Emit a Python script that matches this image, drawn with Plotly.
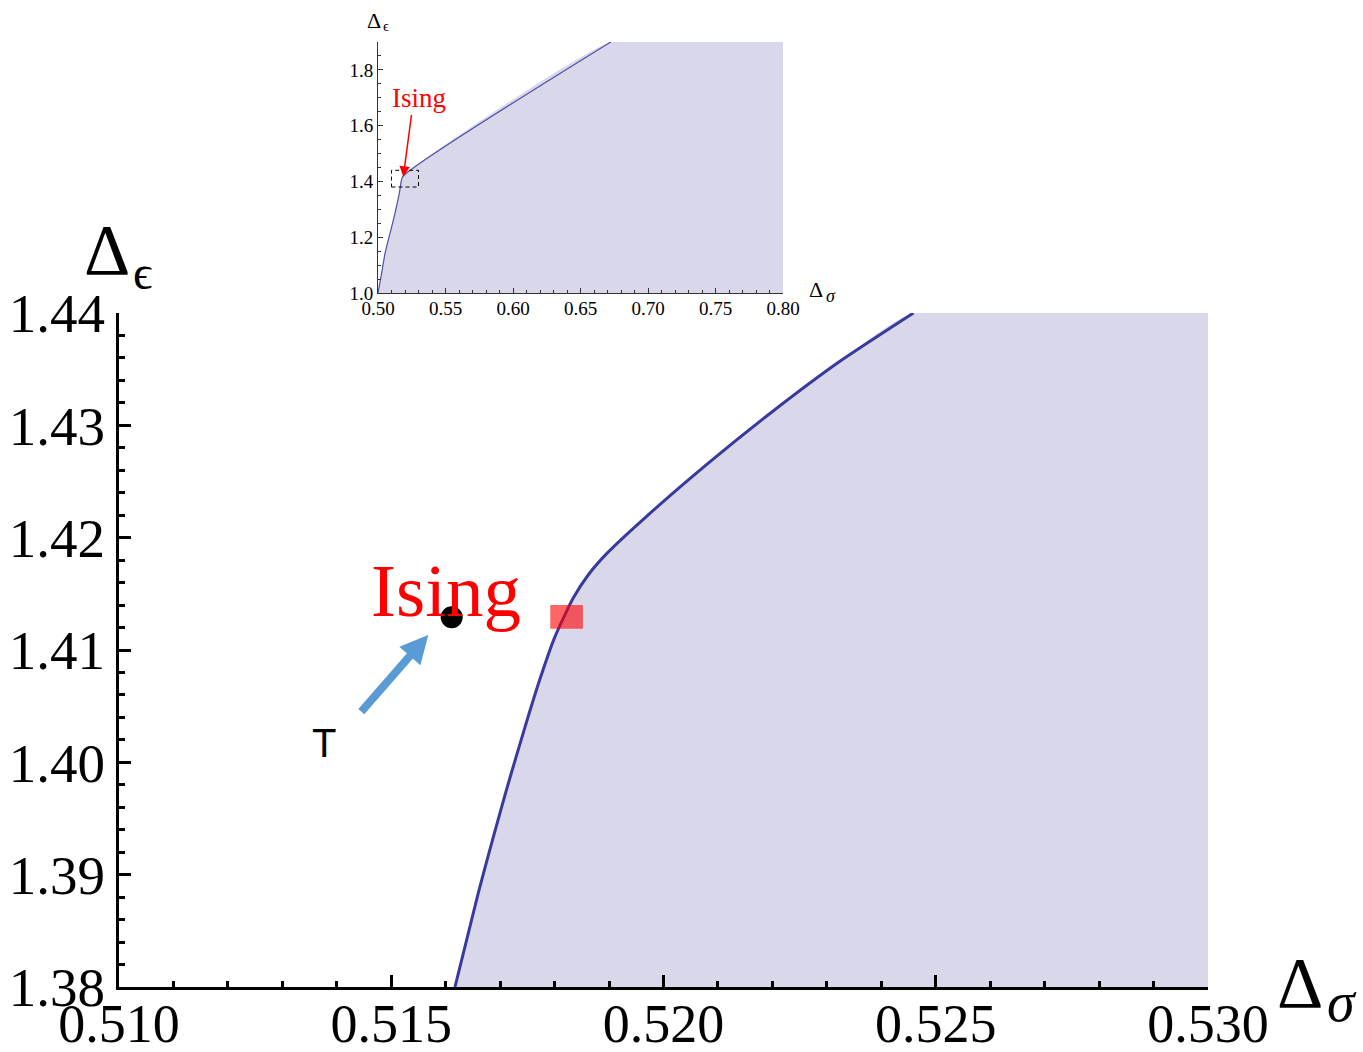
import plotly.graph_objects as go

# ---------------- data ----------------
# main boundary curve (Delta_sigma, Delta_epsilon)
curve_x = [0.51617, 0.51660, 0.51686, 0.51713, 0.51746, 0.51771, 0.51800,
           0.51834, 0.51862, 0.51896, 0.51969, 0.52079, 0.52202, 0.52324, 0.52459]
curve_y = [1.3800, 1.3884, 1.3931, 1.3978, 1.4032, 1.4071, 1.4111,
           1.4146, 1.4167, 1.4186, 1.4219, 1.4265, 1.4313, 1.4357, 1.4400]
# region corners closing the allowed (shaded) region
fill_corner_x = [0.530, 0.530]
fill_corner_y = [1.44, 1.38]

# inset boundary curve
inset_x = [0.5000, 0.5027, 0.5052, 0.5089, 0.5126, 0.5158, 0.5183, 0.6724]
inset_y = [1.000, 1.071, 1.142, 1.214, 1.286, 1.357, 1.417, 1.900]
inset_corner_x = [0.80, 0.80]
inset_corner_y = [1.90, 1.00]

# Ising point markers
ising_box_x = [0.51792, 0.51852]
ising_box_y = [1.4119, 1.4140]
dot_x = [0.51611]
dot_y = [1.41291]

# zoom box drawn in inset
zoom_box_x = [0.510, 0.530]
zoom_box_y = [1.38, 1.44]

# axis ranges
main_x_range = [0.510, 0.530]
main_y_range = [1.38, 1.44]
inset_x_range = [0.50, 0.80]
inset_y_range = [1.0, 1.9]

W, H = 1363, 1052
SERIF = "Liberation Serif"
FILL = "rgb(217,216,234)"
LINE = "rgb(58,58,156)"

fig = go.Figure()

# main shaded region
fig.add_trace(go.Scatter(
    x=curve_x + fill_corner_x, y=curve_y + fill_corner_y,
    fill="toself", fillcolor=FILL, line=dict(width=0, shape="spline", smoothing=0.6),
    mode="lines", hoverinfo="skip", showlegend=False, xaxis="x", yaxis="y"))
fig.add_trace(go.Scatter(
    x=curve_x, y=curve_y, mode="lines",
    line=dict(color=LINE, width=3, shape="spline", smoothing=0.6),
    showlegend=False, xaxis="x", yaxis="y"))
fig.add_trace(go.Scatter(
    x=dot_x, y=dot_y, mode="markers", marker=dict(color="black", size=22),
    showlegend=False, xaxis="x", yaxis="y"))

# inset
fig.add_trace(go.Scatter(
    x=inset_x + inset_corner_x, y=inset_y + inset_corner_y,
    fill="toself", fillcolor=FILL, line=dict(width=0, shape="spline", smoothing=0.4),
    mode="lines", hoverinfo="skip", showlegend=False, xaxis="x2", yaxis="y2"))
fig.add_trace(go.Scatter(
    x=inset_x, y=inset_y, mode="lines",
    line=dict(color="rgb(80,80,170)", width=1.2, shape="spline", smoothing=0.4),
    showlegend=False, xaxis="x2", yaxis="y2"))

# shapes
fig.add_shape(type="rect", xref="x", yref="y",
              x0=ising_box_x[0], x1=ising_box_x[1], y0=ising_box_y[0], y1=ising_box_y[1],
              fillcolor="rgba(255,0,0,0.6)", line=dict(width=0), layer="above")
fig.add_shape(type="rect", xref="x2", yref="y2",
              x0=zoom_box_x[0], x1=zoom_box_x[1], y0=zoom_box_y[0], y1=zoom_box_y[1],
              line=dict(color="black", width=1, dash="4px,3px"), layer="above")


def px2paper_x(px):
    return px / W


def px2paper_y(py):
    return 1 - py / H


ann = []
# main axis titles
ann.append(dict(text="Δ", x=px2paper_x(107), y=px2paper_y(250), xref="paper", yref="paper",
                showarrow=False, font=dict(family=SERIF, size=72, color="black"),
                xanchor="center", yanchor="middle"))
ann.append(dict(text="ϵ", x=px2paper_x(142), y=px2paper_y(272), xref="paper", yref="paper",
                showarrow=False, font=dict(family=SERIF, size=48, color="black"),
                xanchor="center", yanchor="middle"))
ann.append(dict(text="Δ", x=px2paper_x(1300), y=px2paper_y(983), xref="paper", yref="paper",
                showarrow=False, font=dict(family=SERIF, size=72, color="black"),
                xanchor="center", yanchor="middle"))
ann.append(dict(text="<i>σ</i>", x=px2paper_x(1342), y=px2paper_y(1002), xref="paper", yref="paper",
                showarrow=False, font=dict(family=SERIF, size=56, color="black"),
                xanchor="center", yanchor="middle"))
# inset axis titles
ann.append(dict(text="Δ", x=px2paper_x(374), y=px2paper_y(21), xref="paper", yref="paper",
                showarrow=False, font=dict(family=SERIF, size=22, color="black"),
                xanchor="center", yanchor="middle"))
ann.append(dict(text="ϵ", x=px2paper_x(386), y=px2paper_y(26), xref="paper", yref="paper",
                showarrow=False, font=dict(family=SERIF, size=15, color="black"),
                xanchor="center", yanchor="middle"))
ann.append(dict(text="Δ", x=px2paper_x(816), y=px2paper_y(290), xref="paper", yref="paper",
                showarrow=False, font=dict(family=SERIF, size=22, color="black"),
                xanchor="center", yanchor="middle"))
ann.append(dict(text="<i>σ</i>", x=px2paper_x(831), y=px2paper_y(296), xref="paper", yref="paper",
                showarrow=False, font=dict(family=SERIF, size=18, color="black"),
                xanchor="center", yanchor="middle"))
# main Ising label
ann.append(dict(text="Ising", x=0.516005, y=1.41534, xref="x", yref="y",
                showarrow=False, font=dict(family=SERIF, size=75, color="red"),
                xanchor="center", yanchor="middle"))
# T label
ann.append(dict(text="T", x=0.513765, y=1.40172, xref="x", yref="y",
                showarrow=False, font=dict(family="Liberation Sans", size=40, color="black"),
                xanchor="center", yanchor="middle"))
# blue arrow
ann.append(dict(text="", x=0.51568, y=1.41134, ax=0.514426, ay=1.40437,
                xref="x", yref="y", axref="x", ayref="y",
                showarrow=True, arrowhead=2, arrowsize=0.7, arrowwidth=8,
                arrowcolor="rgb(91,155,213)"))
# inset Ising label and arrow
ann.append(dict(text="Ising", x=0.5302, y=1.7007, xref="x2", yref="y2",
                showarrow=False, font=dict(family=SERIF, size=27, color="red"),
                xanchor="center", yanchor="middle"))
ann.append(dict(text="", x=0.51874, y=1.4168, ax=0.52496, ay=1.6441,
                xref="x2", yref="y2", axref="x2", ayref="y2",
                showarrow=True, arrowhead=2, arrowsize=1.4, arrowwidth=1.5,
                arrowcolor="red"))

fig.update_layout(
    width=W, height=H,
    margin=dict(l=0, r=0, t=0, b=0),
    paper_bgcolor="white", plot_bgcolor="white",
    showlegend=False,
    annotations=ann,
    xaxis=dict(
        domain=[119 / W, 1208 / W], range=main_x_range, anchor="y",
        showgrid=False, zeroline=False, showline=True, linecolor="black", linewidth=3,
        ticks="inside", ticklen=12, tickwidth=2.5, tickcolor="black",
        tick0=0.510, dtick=0.005, tickformat=".3f",
        minor=dict(ticks="inside", dtick=0.001, tick0=0.510, ticklen=6, tickwidth=2.5,
                   tickcolor="black", showgrid=False),
        tickfont=dict(family=SERIF, size=54, color="black"),
        ticklabelstandoff=-13,
        automargin=False, fixedrange=True,
    ),
    yaxis=dict(
        domain=[1 - 987 / H, 1 - 313 / H], range=main_y_range, anchor="x",
        showgrid=False, zeroline=False, showline=True, linecolor="black", linewidth=3,
        ticks="inside", ticklen=12, tickwidth=2.5, tickcolor="black",
        tick0=1.38, dtick=0.01, tickformat=".2f",
        minor=dict(ticks="inside", dtick=0.002, tick0=1.38, ticklen=6, tickwidth=2.5,
                   tickcolor="black", showgrid=False),
        tickfont=dict(family=SERIF, size=55, color="black"),
        ticklabelstandoff=0,
        automargin=False, fixedrange=True,
    ),
    xaxis2=dict(
        domain=[378 / W, 783 / W], range=inset_x_range, anchor="y2",
        showgrid=False, zeroline=False, showline=True, linecolor="#333", linewidth=1,
        ticks="inside", ticklen=5, tickwidth=1, tickcolor="#333",
        tick0=0.50, dtick=0.05, tickformat=".2f",
        minor=dict(ticks="inside", dtick=0.01, tick0=0.50, ticklen=3, tickwidth=1,
                   tickcolor="#333", showgrid=False),
        tickfont=dict(family=SERIF, size=19, color="black"),
        ticklabelstandoff=-2,
        automargin=False, fixedrange=True,
    ),
    yaxis2=dict(
        domain=[1 - 293 / H, 1 - 42 / H], range=inset_y_range, anchor="x2",
        showgrid=False, zeroline=False, showline=True, linecolor="#333", linewidth=1,
        ticks="inside", ticklen=5, tickwidth=1, tickcolor="#333",
        tick0=1.0, dtick=0.2, tickformat=".1f",
        minor=dict(ticks="inside", dtick=0.05, tick0=1.0, ticklen=3, tickwidth=1,
                   tickcolor="#333", showgrid=False),
        tickfont=dict(family=SERIF, size=19, color="black"),
        automargin=False, fixedrange=True,
    ),
)

fig.write_html("out.html", config={"displayModeBar": False})
